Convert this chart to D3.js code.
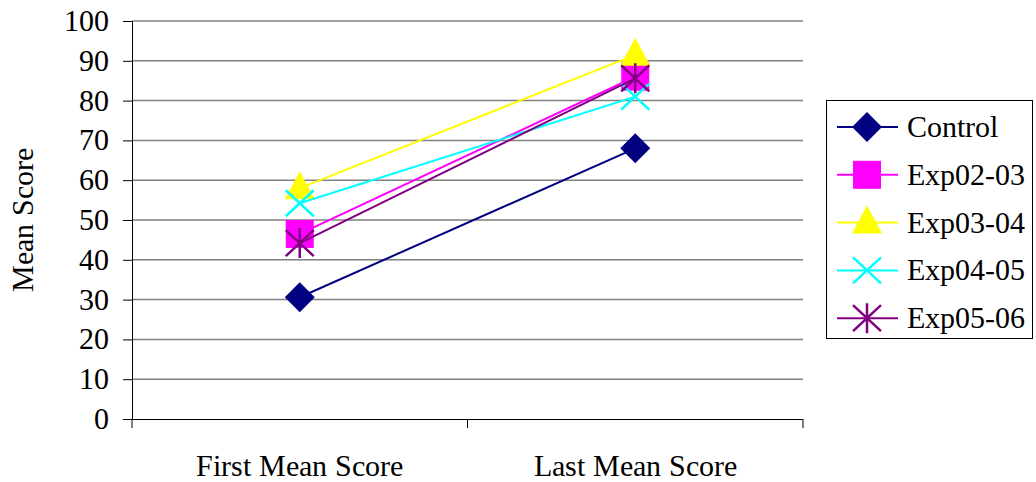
<!DOCTYPE html>
<html><head><meta charset="utf-8">
<script src="https://cdn.jsdelivr.net/npm/d3@7"></script>
<style>
@font-face{font-family:"ChartSerif";src:local("Liberation Serif"),local("LiberationSerif"),local("Times New Roman");}
body{margin:0;background:#fff}svg{display:block}
svg text{font-family:"ChartSerif","Times New Roman","Liberation Serif",serif !important;}
</style>
</head><body><svg id="c" width="1036" height="482"></svg>
<script>
const categories = ["First Mean Score", "Last Mean Score"];
const seriesNames = ["Control", "Exp02-03", "Exp03-04", "Exp04-05", "Exp05-06"];
const control = [30.6, 68];
const exp0203 = [46.5, 86];
const exp0304 = [58, 91.5];
const exp0405 = [54.2, 81];
const exp0506 = [44.2, 85.6];
const yTicks = [0, 10, 20, 30, 40, 50, 60, 70, 80, 90, 100];
const colors = ["#000080", "#FF00FF", "#FFFF00", "#00FFFF", "#800080"];
const markers = ["diamond", "square", "triangle", "x", "star"];
const values = [control, exp0203, exp0304, exp0405, exp0506];

const FONT = "Times New Roman";
const svg = d3.select("#c");
const L = 132, R = 803, T = 21, B = 419;
const y = d3.scaleLinear().domain([0, 100]).range([B, T]);
const x = d3.scaleBand().domain(categories).range([L, R]);

function txt(sel) {
  return sel.attr("font-family", FONT).attr("font-size", 30).attr("fill", "#000")
    .attr("style", "font-family:'Times New Roman','Liberation Serif',serif;font-size:30px");
}

// gridlines
svg.append("g").selectAll("line").data(yTicks.filter(d => d > 0)).join("line")
  .attr("x1", L).attr("x2", R).attr("y1", d => y(d)).attr("y2", d => y(d))
  .attr("stroke", "#808080").attr("stroke-width", 1.5);

// y axis
const ya = svg.append("g").attr("transform", `translate(${L},0)`)
  .call(d3.axisLeft(y).tickValues(yTicks).tickSize(9).tickFormat(""));
ya.select(".domain").attr("stroke", "#000").attr("stroke-width", 1);
ya.selectAll(".tick line").attr("stroke", "#000");
svg.append("g").selectAll("text").data(yTicks).join("text")
  .attr("x", L - 23).attr("y", d => y(d) + 10).attr("text-anchor", "end")
  .call(txt).text(d => d3.format("d")(d));

// x axis
const xa = svg.append("g").attr("transform", `translate(0,${B})`)
  .call(d3.axisBottom(x).tickSize(0).tickFormat(""));
xa.select(".domain").attr("stroke", "#000").attr("d", `M${L},0.5H${R}`);
svg.append("g").selectAll("text").data(categories).join("text")
  .attr("x", d => x(d) + x.bandwidth() / 2).attr("y", B + 57).attr("text-anchor", "middle")
  .call(txt).text(d => d);
const bounds = [L].concat(categories.map(c => x(c) + x.bandwidth()));
svg.append("g").selectAll("line").data(bounds).join("line")
  .attr("x1", d => d).attr("x2", d => d).attr("y1", B).attr("y2", B + 9)
  .attr("stroke", "#000");

// y label
svg.append("text").attr("transform", `translate(33,${(T + B) / 2}) rotate(-90)`)
  .attr("text-anchor", "middle").call(txt).text("Mean Score");

function drawMarker(g, type, color, cx, cy) {
  const s = 15;
  if (type === "diamond") g.append("path").attr("d", `M${cx},${cy - s}L${cx + s},${cy}L${cx},${cy + s}L${cx - s},${cy}Z`).attr("fill", color);
  else if (type === "square") g.append("rect").attr("x", cx - 14).attr("y", cy - 14).attr("width", 28).attr("height", 28).attr("fill", color);
  else if (type === "triangle") g.append("path").attr("d", `M${cx},${cy - 17}L${cx + 15},${cy + 11}L${cx - 15},${cy + 11}Z`).attr("fill", color);
  else if (type === "x") g.append("path").attr("d", `M${cx - 14},${cy - 13}L${cx + 14},${cy + 13}M${cx - 14},${cy + 13}L${cx + 14},${cy - 13}`).attr("stroke", color).attr("stroke-width", 2.5);
  else if (type === "star") g.append("path").attr("d", `M${cx - 14},${cy - 13}L${cx + 14},${cy + 13}M${cx - 14},${cy + 13}L${cx + 14},${cy - 13}M${cx},${cy - 15}V${cy + 15}`).attr("stroke", color).attr("stroke-width", 2.5);
}

const line = d3.line().x((d, i) => x(categories[i]) + x.bandwidth() / 2).y(d => y(d));
values.forEach((vals, k) => {
  const g = svg.append("g");
  g.append("path").attr("d", line(vals)).attr("fill", "none").attr("stroke", colors[k]).attr("stroke-width", 2);
  vals.forEach((v, i) => drawMarker(g, markers[k], colors[k], x(categories[i]) + x.bandwidth() / 2, y(v)));
});

// legend
const lg = svg.append("g");
lg.append("rect").attr("x", 826.5).attr("y", 100.5).attr("width", 206).attr("height", 238)
  .attr("fill", "#fff").attr("stroke", "#000").attr("stroke-width", 1);
seriesNames.forEach((n, k) => {
  const cy = 127 + k * 47.8;
  lg.append("line").attr("x1", 837).attr("x2", 898).attr("y1", cy).attr("y2", cy).attr("stroke", colors[k]).attr("stroke-width", 2);
  drawMarker(lg, markers[k], colors[k], 867, cy);
  lg.append("text").attr("x", 907).attr("y", cy + 10).call(txt).text(n);
});
</script></body></html>
